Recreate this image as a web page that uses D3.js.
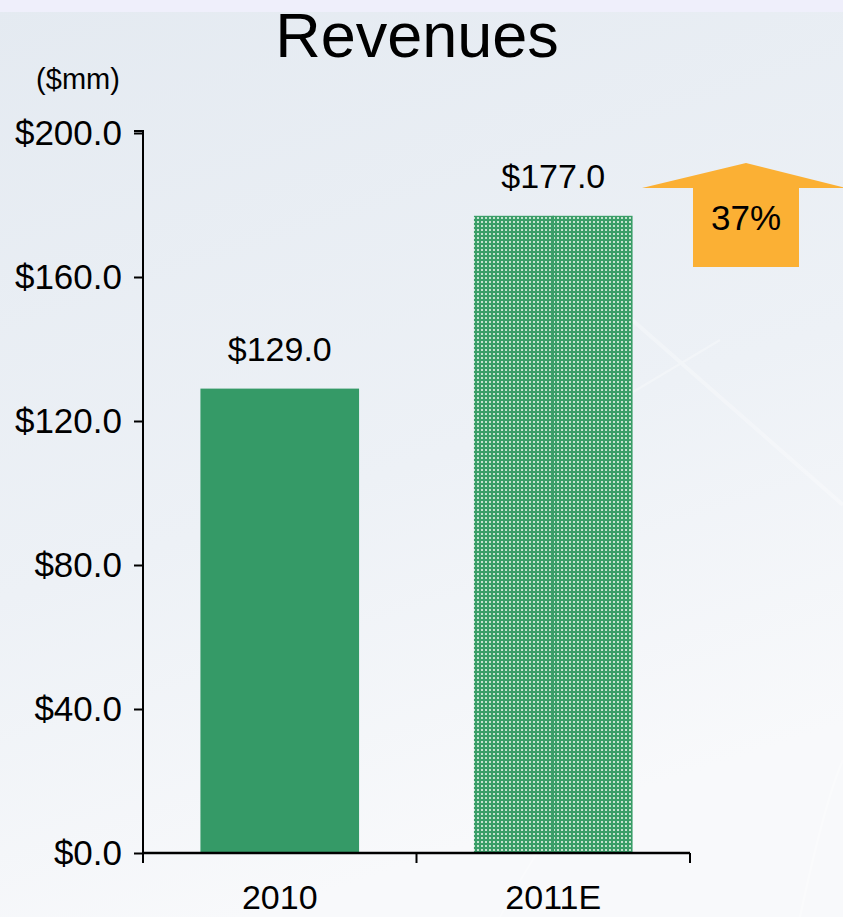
<!DOCTYPE html>
<html lang="en">
<head>
  <meta charset="UTF-8">
  <title>Revenues</title>
  <script src="https://d3js.org/d3.v7.min.js"></script>
  <style>
    body { margin: 0; padding: 0; overflow: hidden; }
    text { font-family: "Liberation Sans", Arial, sans-serif; fill: #000; }
  </style>
</head>
<body>
  <svg width="843" height="917"></svg>
<script>
  // chart data
  const categories = ["2010", "2011E"];
  const revenues = [129.0, 177.0];
  const estimated = [false, true];
  const yTicks = [0, 40, 80, 120, 160, 200];
  const growthLabel = "37%";

  const svg = d3.select("svg");
  const width = +svg.attr("width");
  const height = +svg.attr("height");

  const defs = svg.append("defs");

  // background gradient
  const bg = defs.append("linearGradient")
    .attr("id", "bg").attr("x1", 0).attr("y1", 0).attr("x2", 0.3).attr("y2", 1);
  bg.append("stop").attr("offset", "0%").attr("stop-color", "#e4eaf1");
  bg.append("stop").attr("offset", "60%").attr("stop-color", "#edf1f6");
  bg.append("stop").attr("offset", "100%").attr("stop-color", "#f8f9fb");

  // dotted pattern for the estimate bar
  const pat = defs.append("pattern")
    .attr("id", "dots").attr("patternUnits", "userSpaceOnUse")
    .attr("width", 4).attr("height", 4);
  pat.append("rect").attr("width", 4).attr("height", 4).attr("fill", "#3a9e68");
  pat.append("rect").attr("x", 1).attr("y", 1).attr("width", 2).attr("height", 2).attr("fill", "#c4e2cf");

  svg.append("rect").attr("width", width).attr("height", height).attr("fill", "url(#bg)");
  svg.append("rect").attr("width", width).attr("height", 12).attr("fill", "#efeffb");

  // faint light streaks in the background
  const streaks = svg.append("g").attr("stroke", "#ffffff").attr("fill", "none").attr("opacity", 0.3);
  streaks.append("path").attr("d", "M630,318 L843,505").attr("stroke-width", 4);
  streaks.append("path").attr("d", "M633,392 L720,340").attr("stroke-width", 2.5);
  streaks.append("path").attr("d", "M800,917 Q825,800 843,760").attr("stroke-width", 2.5);
  streaks.append("path").attr("d", "M500,917 Q530,860 560,820").attr("stroke-width", 2);

  const x = d3.scaleBand()
    .domain(categories)
    .range([143, 690])
    .paddingInner(0.42)
    .paddingOuter(0.21);

  const y = d3.scaleLinear()
    .domain([0, 200])
    .range([853, 133]);

  const g = svg.append("g");

  // bars
  g.selectAll("rect.bar")
    .data(categories)
    .enter()
    .append("rect")
    .attr("class", "bar")
    .attr("x", d => x(d))
    .attr("width", x.bandwidth())
    .attr("y", (d, i) => y(revenues[i]))
    .attr("height", (d, i) => y(0) - y(revenues[i]))
    .attr("fill", (d, i) => estimated[i] ? "url(#dots)" : "#359a67");

  // thin centre line on the patterned bar
  g.selectAll("line.mid")
    .data(categories.filter((d, i) => estimated[i]))
    .enter()
    .append("line")
    .attr("x1", d => x(d) + x.bandwidth() / 2)
    .attr("x2", d => x(d) + x.bandwidth() / 2)
    .attr("y1", d => y(revenues[categories.indexOf(d)]))
    .attr("y2", y(0))
    .attr("stroke", "#3a9e68").attr("stroke-width", 1.5);

  // value labels
  g.selectAll("text.val")
    .data(categories)
    .enter()
    .append("text")
    .attr("class", "val")
    .attr("x", d => x(d) + x.bandwidth() / 2)
    .attr("y", (d, i) => y(revenues[i]) - 28)
    .attr("text-anchor", "middle")
    .attr("font-size", "34px")
    .text((d, i) => "$" + revenues[i].toFixed(1));

  // y axis
  const yAxis = d3.axisLeft(y)
    .tickValues(yTicks)
    .tickSize(9)
    .tickPadding(12)
    .tickFormat(d => "$" + d.toFixed(1));

  const yg = svg.append("g")
    .attr("transform", "translate(143,0)")
    .call(yAxis);
  yg.select(".domain").attr("d", "M-9,131H0V853").attr("stroke", "#000").attr("stroke-width", 2);
  yg.selectAll(".tick line").attr("stroke-width", 2);
  yg.selectAll(".tick text")
    .attr("font-size", "35px")
    .attr("font-family", "Liberation Sans, Arial, sans-serif")
    .attr("fill", "#000");

  // x axis with ticks at band boundaries
  const xg = svg.append("g").attr("transform", "translate(0,853)");
  xg.append("line").attr("x1", 143).attr("x2", 690).attr("stroke", "#000").attr("stroke-width", 2.5);
  const edges = [x.range()[0], (x("2010") + x.bandwidth() + x("2011E")) / 2, x.range()[1]];
  xg.selectAll("line.tk")
    .data(edges)
    .enter()
    .append("line")
    .attr("x1", d => d).attr("x2", d => d)
    .attr("y1", 0).attr("y2", 10)
    .attr("stroke", "#000").attr("stroke-width", 2);
  xg.selectAll("text")
    .data(categories)
    .enter()
    .append("text")
    .attr("x", d => x(d) + x.bandwidth() / 2)
    .attr("y", 56)
    .attr("text-anchor", "middle")
    .attr("font-size", "34px")
    .text(d => d);

  // title and unit
  svg.append("text")
    .attr("x", 417).attr("y", 57)
    .attr("text-anchor", "middle")
    .attr("font-size", "63px")
    .text("Revenues");

  svg.append("text")
    .attr("x", 78).attr("y", 89)
    .attr("text-anchor", "middle")
    .attr("font-size", "29px")
    .text("($mm)");

  // growth arrow
  const arrowX = 746, arrowTop = 163;
  svg.append("path")
    .attr("d", `M${arrowX},${arrowTop} L${arrowX + 100},${arrowTop + 25} L${arrowX + 53},${arrowTop + 25} L${arrowX + 53},${arrowTop + 104} L${arrowX - 53},${arrowTop + 104} L${arrowX - 53},${arrowTop + 25} L${arrowX - 104},${arrowTop + 25} Z`)
    .attr("fill", "#fbb034");
  svg.append("text")
    .attr("x", arrowX).attr("y", arrowTop + 67)
    .attr("text-anchor", "middle")
    .attr("font-size", "35px")
    .text(growthLabel);
</script>
</body>
</html>
